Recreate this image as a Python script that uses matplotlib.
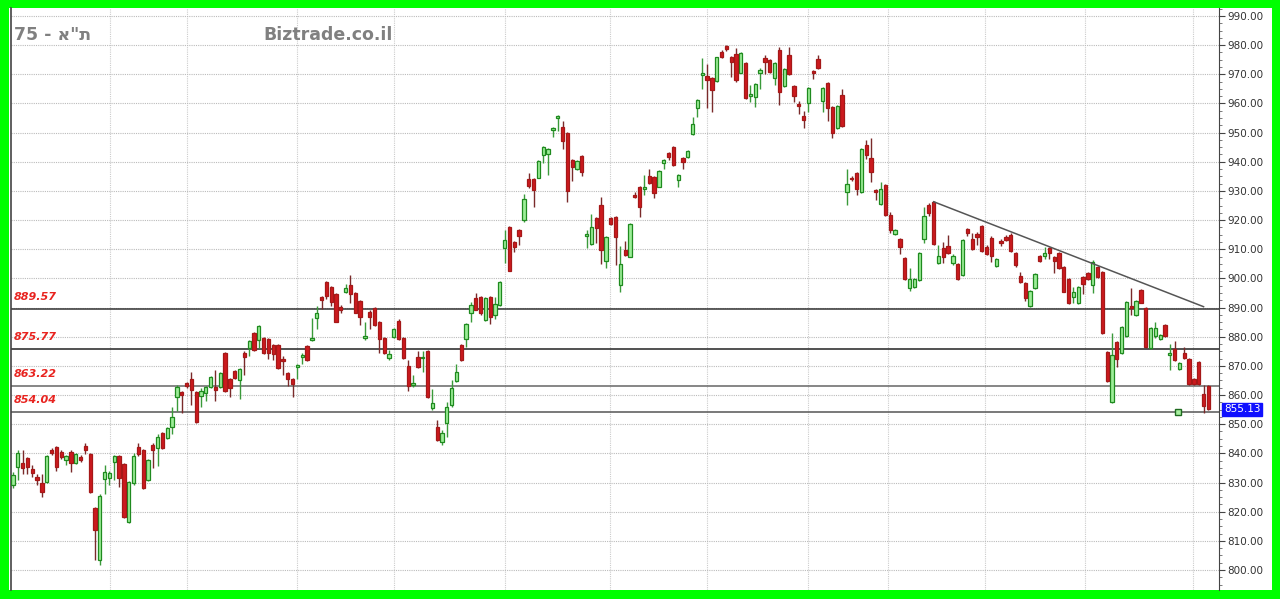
import numpy as np
import matplotlib
matplotlib.use("Agg")
from matplotlib import pyplot as plt
from matplotlib.patches import Rectangle
from matplotlib.ticker import MultipleLocator, FormatStrFormatter
import matplotlib.transforms as mtransforms

# daily OHLC, one candle per trading day
opens = [829.2, 835.3, 836.7, 838.4, 834.6, 831.9, 829.8, 830.2, 841.2, 842.2,
         840.5, 837.7, 840.5, 836.7, 838.8, 842.5, 839.8, 821.3, 803.4, 831.2,
         831.6, 837.0, 839.0, 836.4, 816.5, 829.8, 842.2, 841.2, 830.9, 842.9,
         841.9, 847.0, 845.3, 849.0, 859.3, 861.0, 864.1, 865.5, 861.0, 859.7,
         860.7, 862.8, 862.8, 862.8, 874.5, 865.5, 868.3, 865.0, 874.5, 876.1,
         881.3, 878.9, 879.7, 879.2, 877.2, 877.2, 872.4, 867.6, 865.5, 869.6,
         873.0, 876.9, 878.9, 886.4, 893.6, 898.9, 897.0, 894.7, 890.3, 895.5,
         897.7, 894.9, 892.4, 879.6, 888.6, 889.9, 885.2, 879.7, 872.7, 879.9,
         885.4, 879.7, 870.0, 863.5, 873.0, 872.7, 875.2, 855.5, 849.2, 844.0,
         850.3, 856.6, 864.9, 877.2, 879.1, 888.0, 893.2, 893.5, 885.8, 893.5,
         887.4, 890.9, 910.3, 917.6, 912.6, 916.6, 920.0, 934.0, 934.1, 934.6,
         942.3, 942.7, 950.9, 954.9, 951.8, 949.8, 940.6, 937.5, 942.0, 914.6,
         911.8, 920.6, 925.2, 906.1, 920.6, 921.0, 897.8, 909.8, 907.5, 928.6,
         931.3, 930.6, 935.2, 934.9, 931.5, 939.5, 942.9, 945.0, 933.8, 941.4,
         941.5, 949.5, 958.3, 969.8, 969.5, 968.6, 967.8, 977.8, 979.8, 976.0,
         976.9, 970.6, 974.0, 962.6, 962.1, 970.6, 975.5, 974.8, 968.6, 978.3,
         966.0, 976.6, 966.1, 959.8, 955.7, 960.1, 971.3, 975.1, 960.9, 967.1,
         958.9, 951.5, 962.9, 929.7, 934.5, 936.3, 929.7, 945.8, 941.2, 930.3,
         925.5, 932.1, 921.8, 915.1, 913.4, 906.9, 896.6, 897.0, 899.5, 913.4,
         925.2, 926.3, 905.2, 910.3, 911.1, 905.4, 904.9, 901.2, 916.9, 913.4,
         915.2, 918.1, 910.7, 913.8, 904.3, 912.8, 914.3, 914.9, 908.8, 900.8,
         898.3, 890.6, 896.6, 907.7, 907.7, 910.3, 907.5, 908.8, 903.8, 899.7,
         893.5, 891.5, 900.4, 902.0, 897.8, 904.0, 902.3, 874.9, 857.5, 878.1,
         874.3, 880.1, 890.5, 887.5, 896.0, 889.8, 876.1, 880.1, 879.1, 883.9,
         873.7, 875.7, 868.8, 874.5, 872.3, 865.5, 871.4, 860.4, 863.1]
highs = [833.5, 841.2, 841.0, 838.8, 836.0, 833.0, 833.0, 839.5, 842.0, 842.5,
         841.0, 839.5, 841.0, 840.2, 839.3, 843.5, 840.0, 821.5, 826.0, 836.0,
         834.0, 839.5, 839.5, 836.8, 830.5, 840.0, 843.5, 841.5, 838.0, 843.5,
         846.5, 847.3, 849.0, 856.0, 863.5, 861.5, 864.5, 868.0, 861.3, 862.3,
         863.0, 866.5, 868.6, 868.0, 874.8, 866.0, 868.6, 869.3, 875.0, 879.0,
         881.6, 884.0, 880.0, 879.5, 877.5, 877.5, 873.5, 868.0, 866.0, 870.6,
         874.5, 877.2, 886.4, 890.5, 894.0, 899.2, 897.3, 895.0, 890.8, 898.0,
         901.2, 895.2, 892.7, 885.2, 889.0, 890.2, 885.5, 880.0, 875.5, 883.0,
         886.2, 880.0, 872.0, 866.9, 875.0, 875.0, 875.5, 862.0, 851.5, 848.0,
         857.5, 865.0, 870.5, 877.5, 884.6, 892.0, 895.0, 894.0, 893.5, 893.8,
         893.5, 899.2, 916.6, 918.0, 913.0, 917.0, 929.0, 936.0, 934.5, 940.6,
         945.3, 944.6, 952.0, 956.0, 954.0, 950.2, 941.0, 940.6, 942.3, 916.5,
         922.0, 921.0, 928.0, 914.5, 921.0, 921.5, 911.0, 913.0, 919.0, 929.5,
         931.6, 935.5, 937.5, 935.2, 937.2, 941.0, 943.2, 945.3, 935.8, 941.7,
         944.0, 955.5, 961.5, 975.5, 973.5, 969.0, 976.1, 978.5, 980.2, 976.3,
         979.0, 977.7, 974.3, 966.5, 967.0, 972.0, 976.5, 975.1, 974.3, 979.5,
         972.1, 979.5, 966.4, 961.0, 957.5, 965.5, 971.6, 976.5, 965.7, 967.4,
         959.2, 959.4, 965.0, 937.4, 935.0, 936.6, 944.6, 947.5, 948.1, 930.6,
         933.0, 932.4, 922.8, 916.9, 913.7, 907.2, 903.5, 900.0, 909.1, 924.6,
         926.0, 926.6, 911.5, 912.5, 915.0, 908.5, 905.2, 913.5, 917.2, 915.5,
         916.0, 918.4, 911.5, 914.5, 906.9, 913.6, 915.0, 915.5, 909.1, 902.2,
         898.6, 896.1, 901.7, 908.0, 910.7, 910.8, 907.8, 909.1, 904.1, 900.0,
         897.0, 897.5, 900.7, 902.3, 906.3, 904.3, 902.6, 875.2, 881.2, 878.4,
         883.6, 892.3, 896.8, 892.7, 896.3, 890.1, 883.2, 885.0, 880.9, 884.2,
         877.5, 878.5, 871.4, 876.5, 872.6, 865.8, 871.7, 863.5, 863.4]
lows = [828.0, 830.9, 833.0, 833.0, 832.0, 829.0, 825.0, 830.0, 839.5, 834.0,
        838.0, 836.0, 833.6, 836.3, 837.0, 839.8, 826.5, 803.4, 801.7, 826.0,
        829.0, 831.0, 828.5, 817.8, 816.0, 829.3, 839.2, 827.8, 830.5, 835.0,
        835.5, 841.5, 845.0, 846.5, 854.5, 854.0, 862.5, 856.5, 850.5, 856.0,
        858.0, 862.5, 858.0, 862.5, 861.2, 859.5, 865.5, 858.5, 867.0, 873.5,
        875.2, 876.0, 874.2, 872.5, 872.0, 869.0, 867.0, 863.0, 859.5, 865.5,
        870.5, 871.7, 878.6, 882.5, 889.5, 893.0, 890.5, 885.0, 888.0, 895.0,
        891.5, 888.0, 884.0, 878.9, 882.5, 883.7, 874.5, 874.2, 872.0, 879.5,
        879.0, 872.3, 861.5, 862.9, 869.2, 868.0, 859.0, 855.0, 844.3, 843.0,
        845.5, 856.0, 864.5, 871.8, 876.5, 885.0, 889.0, 887.5, 885.5, 884.5,
        886.0, 890.6, 905.4, 902.4, 909.0, 911.5, 919.5, 931.0, 924.6, 934.3,
        939.5, 935.5, 948.5, 950.5, 944.5, 926.3, 933.5, 937.2, 935.0, 910.5,
        911.5, 912.0, 905.0, 903.5, 918.3, 904.5, 895.5, 907.7, 907.2, 927.5,
        921.0, 928.5, 932.5, 927.5, 931.2, 937.5, 940.5, 938.6, 931.5, 937.5,
        941.2, 949.2, 955.5, 964.9, 958.5, 957.2, 967.5, 975.5, 978.0, 969.0,
        967.5, 970.3, 961.5, 960.5, 958.8, 964.8, 970.0, 970.6, 966.5, 959.5,
        965.7, 969.7, 960.5, 956.5, 951.5, 957.2, 968.5, 971.8, 957.2, 954.1,
        948.0, 951.2, 952.0, 925.2, 933.5, 928.5, 929.4, 940.8, 933.2, 927.0,
        925.2, 921.5, 915.5, 914.8, 908.5, 899.5, 895.8, 896.7, 899.2, 912.0,
        921.3, 911.5, 905.0, 905.2, 908.5, 904.6, 899.5, 900.9, 914.7, 909.7,
        911.5, 909.2, 908.0, 905.7, 904.0, 911.2, 912.9, 909.0, 904.0, 898.4,
        892.3, 890.3, 896.3, 905.5, 906.5, 906.5, 902.0, 903.2, 895.2, 891.2,
        891.5, 891.2, 894.5, 899.5, 895.0, 900.3, 880.9, 864.6, 857.2, 869.5,
        874.0, 879.8, 887.5, 887.2, 891.4, 876.1, 875.8, 879.5, 878.8, 879.8,
        868.5, 871.7, 868.5, 872.3, 863.5, 863.5, 863.5, 853.8, 854.9]
closes = [832.6, 840.1, 835.0, 835.3, 833.3, 830.9, 826.8, 839.1, 840.1, 835.3,
          838.8, 839.0, 836.7, 839.8, 837.7, 841.2, 826.8, 813.7, 825.4, 833.6,
          833.3, 839.1, 831.6, 818.2, 830.2, 839.0, 839.8, 828.1, 837.7, 841.2,
          845.6, 841.9, 848.7, 852.5, 862.8, 860.0, 863.1, 861.7, 850.8, 861.4,
          862.8, 866.2, 861.7, 867.6, 861.5, 862.4, 865.9, 869.0, 873.2, 878.5,
          875.5, 883.7, 874.5, 874.5, 874.1, 869.3, 871.7, 865.5, 863.8, 870.3,
          873.7, 872.0, 879.5, 888.1, 892.6, 894.0, 891.9, 885.2, 889.0, 896.8,
          894.7, 888.3, 886.9, 880.2, 886.9, 884.0, 879.1, 874.5, 874.1, 882.7,
          879.2, 872.6, 863.1, 864.0, 869.5, 873.2, 859.2, 857.2, 844.6, 847.1,
          855.8, 862.3, 868.0, 872.0, 884.3, 890.9, 889.2, 888.0, 893.2, 886.9,
          891.2, 898.9, 913.2, 902.7, 910.9, 914.6, 927.1, 931.7, 930.3, 940.3,
          945.0, 944.3, 951.5, 955.8, 947.2, 930.1, 938.3, 940.3, 936.6, 915.2,
          917.5, 917.2, 909.8, 914.1, 918.7, 914.3, 904.9, 908.0, 918.6, 927.8,
          924.6, 931.3, 932.8, 929.2, 936.9, 940.6, 941.5, 938.9, 935.5, 940.0,
          943.7, 952.8, 961.2, 970.6, 968.0, 964.6, 975.8, 976.0, 978.6, 974.1,
          968.0, 977.4, 961.8, 963.2, 966.7, 971.6, 974.3, 970.9, 974.0, 963.8,
          971.8, 970.0, 962.7, 959.2, 954.3, 965.2, 970.6, 972.1, 965.4, 958.3,
          949.8, 959.1, 952.3, 932.4, 934.1, 930.6, 944.3, 942.3, 936.6, 929.6,
          930.6, 921.8, 916.6, 916.6, 910.7, 899.8, 899.7, 899.7, 908.8, 921.5,
          922.5, 911.8, 907.7, 907.2, 908.8, 907.7, 899.8, 913.2, 915.5, 910.0,
          914.1, 909.5, 908.4, 907.7, 906.6, 912.3, 913.2, 909.5, 904.6, 898.9,
          893.2, 895.8, 901.4, 906.1, 908.8, 908.6, 906.1, 903.5, 895.5, 891.5,
          895.5, 897.2, 898.1, 899.8, 905.7, 900.6, 881.2, 864.9, 873.7, 872.3,
          883.3, 892.0, 889.8, 892.4, 891.7, 876.4, 882.9, 882.9, 880.6, 880.1,
          874.3, 872.0, 871.1, 872.6, 863.8, 863.8, 863.8, 856.4, 855.13]

levels = [889.57, 875.77, 863.22, 854.04]
level_colors = ['#333333', '#222222', '#666666', '#555555']
month_marks = [20.1, 36.1, 58.9, 79.0, 102.1, 123.9, 144.0, 164.9, 181.5, 201.7, 222.4, 244.8]
trend_x = [191, 247]
trend_y = [926.3, 890.3]
marker_x, marker_y = 241.7, 854.04
last_price = 855.13

W, H = 1280, 599
fig = plt.figure(figsize=(W / 100, H / 100), dpi=100)
fig.patch.set_facecolor('#00ff00')
fig.patches.append(Rectangle((9 / W, 9 / H), (1272 - 9) / W, (591 - 9) / H,
                             transform=fig.transFigure, facecolor='white',
                             edgecolor='none', zorder=-1))

ax = fig.add_axes([11 / W, 9 / H, (1219 - 11) / W, (591 - 9) / H])
ax.set_facecolor('white')

o = np.array(opens)
h = np.array(highs)
l = np.array(lows)
c = np.array(closes)
x = np.arange(len(o))
up = c >= o

# wicks
ax.vlines(x[up], l[up], h[up], color='#3a9a3a', lw=1, zorder=3)
ax.vlines(x[~up], l[~up], h[~up], color='#7a2a2a', lw=1, zorder=3)

# bodies
body_lo = np.minimum(o, c)
body_h = np.maximum(np.abs(c - o), 0.35)
ax.bar(x[up], body_h[up], bottom=body_lo[up], width=0.68,
       color='#9cee98', edgecolor='#1f8a1f', lw=0.9, zorder=4)
ax.bar(x[~up], body_h[~up], bottom=body_lo[~up], width=0.68,
       color='#cc1a1e', edgecolor='#a51818', lw=0.9, zorder=4)

# support / resistance levels
for lv, col in zip(levels, level_colors):
    ax.axhline(lv, color=col, lw=1.1, zorder=2)
    ax.annotate('%.2f' % lv, xy=(0.002, lv), xycoords=('axes fraction', 'data'),
                xytext=(0, 5), textcoords='offset points', color='#e8231f',
                fontsize=8, fontweight='bold', style='italic', va='bottom', ha='left')

ax.plot(trend_x, trend_y, color='#555555', lw=1.1, zorder=5)
ax.plot([marker_x], [marker_y], marker='s', ms=5, mfc='#a8f0a0', mec='#1f6a1f',
        mew=1, zorder=6)

# grid
for m in month_marks:
    ax.axvline(m, color='#cccccc', lw=0.8, ls=(0, (1, 1)), zorder=1)
ax.yaxis.set_major_locator(MultipleLocator(10))
ax.yaxis.set_minor_locator(MultipleLocator(2.5))
ax.grid(axis='y', which='major', color='#bbbbbb', lw=0.8, ls=(0, (1, 1)), zorder=1)

ax.set_xlim(-0.42, 250.2)
ax.set_ylim(793.14, 992.74)
ax.set_xticks([])

ax.yaxis.tick_right()
ax.yaxis.set_major_formatter(FormatStrFormatter('%.2f'))
ax.tick_params(axis='y', which='major', length=4, color='#444444', labelsize=7.5,
               labelcolor='#333333', pad=2)
ax.tick_params(axis='y', which='minor', length=2, color='#666666')

for s in ['top', 'bottom']:
    ax.spines[s].set_visible(False)
ax.spines['left'].set_color('#444444')
ax.spines['left'].set_linewidth(1.2)
ax.spines['right'].set_color('#444444')

trans = mtransforms.blended_transform_factory(ax.transAxes, ax.transData)
ax.text(1.004, last_price, '%.2f' % last_price, transform=trans, color='white',
        fontsize=7.5, va='center', ha='left', zorder=7,
        bbox=dict(boxstyle='square,pad=0.15', fc='#1010ff', ec='#1010ff'))

fig.text(14 / W, 1 - 35 / H, '75 - א"ת', color='#808080', fontsize=12.5,
         fontweight='bold', va='center', ha='left')
fig.text(263 / W, 1 - 35 / H, 'Biztrade.co.il', color='#808080', fontsize=12.5,
         fontweight='bold', va='center', ha='left')

fig.savefig('out.png', dpi=100, facecolor=fig.get_facecolor())
